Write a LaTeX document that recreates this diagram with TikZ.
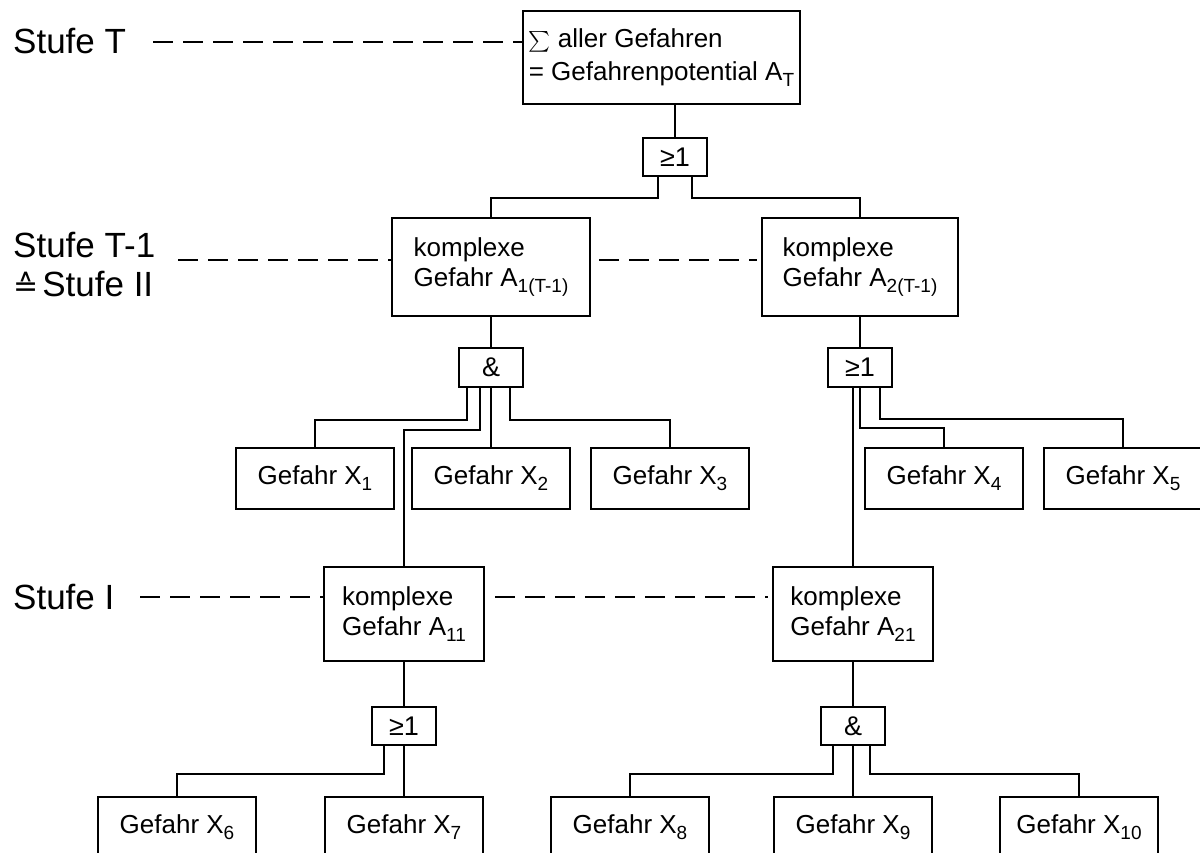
\documentclass[tikz,border=0pt]{standalone}
\usepackage{amsmath}
\usepackage{fontspec}
\setmainfont{Liberation Sans}
\newfontfamily\symfont{DejaVu Sans}
% lowered, smaller index after a hazard name
\newcommand\subs[1]{\raisebox{-6pt}{\fontsize{19pt}{19pt}\selectfont #1}}

\begin{document}
\begin{tikzpicture}[x=1pt,y=-1pt,
  wire/.style={line width=2pt},
  box/.style={draw, line width=2pt, rectangle, inner sep=0pt,
              font=\fontsize{26pt}{30pt}\selectfont},
  hazard/.style={box, minimum width=158pt, minimum height=61pt, align=center},
  complexbox/.style={box, align=left, minimum width=160pt, minimum height=94pt},
  gate/.style={box, minimum width=64pt, minimum height=38pt,
               font=\fontsize{27pt}{27pt}\selectfont},
  level/.style={anchor=west, inner sep=0pt, align=left,
                font=\fontsize{35pt}{39pt}\selectfont},
  levelline/.style={line width=1.6pt, dash pattern=on 20pt off 10pt}
]
\useasboundingbox (0,0) rectangle (1200,853);
\clip (0,0) rectangle (1200,853);

% top event
\node[box, align=left, minimum width=277pt, minimum height=93pt,
      font=\fontsize{26pt}{33pt}\selectfont] (top) at (661.5,57.5)
  {{\fontsize{22pt}{22pt}\selectfont$\sum$} aller Gefahren\\= Gefahrenpotential A\subs{T}};
\node[gate] (g0) at (675,157) {≥1};

% level T-1
\node[complexbox, minimum width=198pt, minimum height=98pt] (A1) at (491,267)
  {komplexe\\Gefahr A\subs{1(T-1)}};
\node[complexbox, minimum width=196pt, minimum height=98pt] (A2) at (860,267)
  {komplexe\\Gefahr A\subs{2(T-1)}};
\node[gate, minimum height=39pt] (g1) at (491,367.5) {\&};
\node[gate, minimum height=39pt] (g2) at (860,367.5) {≥1};

\node[hazard] (X1) at (315,478.5) {Gefahr X\subs{1}};
\node[hazard] (X2) at (491,478.5) {Gefahr X\subs{2}};
\node[hazard] (X3) at (670,478.5) {Gefahr X\subs{3}};
\node[hazard] (X4) at (944,478.5) {Gefahr X\subs{4}};
\node[hazard] (X5) at (1123,478.5) {Gefahr X\subs{5}};

% level I
\node[complexbox] (A11) at (404,614) {komplexe\\Gefahr A\subs{11}};
\node[complexbox] (A21) at (853,614) {komplexe\\Gefahr A\subs{21}};
\node[gate] (g3) at (404,726) {≥1};
\node[gate] (g4) at (853,726) {\&};

\node[hazard] (X6) at (177,827.5) {Gefahr X\subs{6}};
\node[hazard] (X7) at (404,827.5) {Gefahr X\subs{7}};
\node[hazard] (X8) at (630,827.5) {Gefahr X\subs{8}};
\node[hazard] (X9) at (853,827.5) {Gefahr X\subs{9}};
\node[hazard] (X10) at (1079,827.5) {Gefahr X\subs{10}};

% connections
\draw[wire] (g0.north) -- (g0.north |- top.south);
\draw[wire] ([xshift=-17pt]g0.south) -- ++(0,21) -| (A1.north);
\draw[wire] ([xshift=17pt]g0.south) -- ++(0,21) -| (A2.north);
\draw[wire] (A1.south) -- (g1.north);
\draw[wire] (A2.south) -- (g2.north);

\draw[wire] ([xshift=-24pt]g1.south) -- ++(0,32) -| (X1.north);
\draw[wire] ([xshift=-11pt]g1.south) -- ++(0,42) -| (A11.north);
\draw[wire] (g1.south) -- (X2.north);
\draw[wire] ([xshift=19pt]g1.south) -- ++(0,32) -| (X3.north);

\draw[wire] (A21.north) -- (A21.north |- g2.south);
\draw[wire] (g2.south) -- ++(0,40) -| (X4.north);
\draw[wire] ([xshift=20pt]g2.south) -- ++(0,31) -| (X5.north);

\draw[wire] (A11.south) -- (g3.north);
\draw[wire] (A21.south) -- (g4.north);

\draw[wire] ([xshift=-20pt]g3.south) -- ++(0,28) -| (X6.north);
\draw[wire] (g3.south) -- (X7.north);
\draw[wire] ([xshift=-20pt]g4.south) -- ++(0,28) -| (X8.north);
\draw[wire] (g4.south) -- (X9.north);
\draw[wire] ([xshift=17pt]g4.south) -- ++(0,28) -| (X10.north);

% level labels and guide lines
\node[level] (LT) at (13,41) {Stufe T};
\node[level] (LT1) at (13,265)
  {Stufe T-1\\{\symfont\fontsize{30pt}{30pt}\selectfont ≙}\hspace{4pt}Stufe II};
\node[level] (LI) at (13,597) {Stufe I};

\coordinate (t0) at (153,42);
\coordinate (t1) at (178,260);
\coordinate (t2) at (140,597);
\draw[levelline] (t0) -- (t0 -| top.west);
\draw[levelline] (t1) -- (t1 -| A1.west);
\draw[levelline, shorten <=8pt, shorten >=4pt] (A1.east |- t1) -- (A2.west |- t1);
\draw[levelline] (t2) -- (t2 -| A11.west);
\draw[levelline, shorten <=10pt, shorten >=4pt] (A11.east |- t2) -- (A21.west |- t2);
\end{tikzpicture}
\end{document}
